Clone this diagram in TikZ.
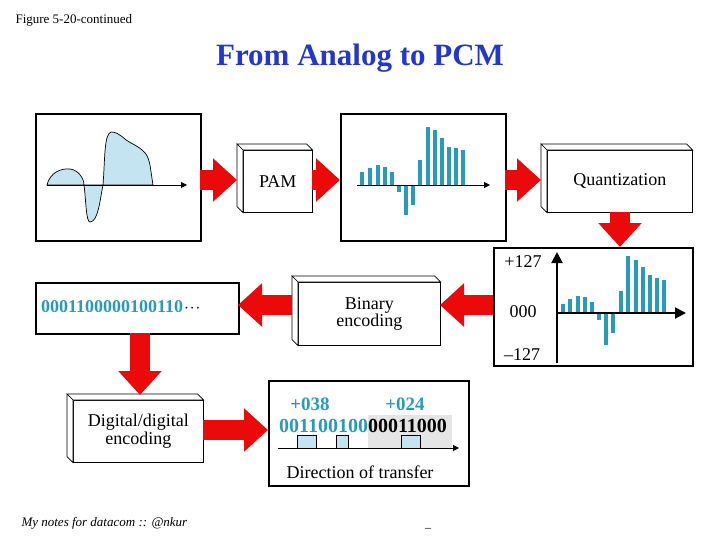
\documentclass[tikz,border=0pt]{standalone}
\usepackage{fontspec}
\setmainfont{Liberation Serif}
\usetikzlibrary{arrows.meta,calc}
\definecolor{teal2}{RGB}{40,155,185}
\definecolor{ttlblue}{RGB}{35,55,200}
\definecolor{lblue}{RGB}{195,228,240}
\definecolor{arred}{RGB}{235,10,10}
\tikzset{
  frame/.style={draw,line width=2pt},
  face/.style={draw,fill=white,line width=0.6pt,align=center,inner sep=0pt},
  bigarrow/.style={draw=arred,line width=20pt,-{Triangle[length=24pt,width=42pt]}},
  bar/.style={fill=teal2,draw=none},
  axis/.style={line width=1pt,-{Triangle[length=6pt,width=6pt]}},
  axisb/.style={line width=2pt,-{Triangle[length=11pt,width=11pt]}},
  pulse/.style={draw,line width=1pt,fill=lblue},
}
\newcommand{\threedbox}[6]{% name, x1,y1,x2,y2,text
  \node[face,minimum width=#4pt-#2pt,minimum height=#5pt-#3pt,anchor=north west,text width=#4pt-#2pt] (#1) at (#2,#3) {#6};
  \draw[fill=white,line width=0.6pt] (#1.north west) -- ++(-6,-6) -- ($(#1.north east)+(-6,-6)$) -- (#1.north east) -- cycle;
  \draw[fill=white,line width=0.6pt] (#1.north west) -- ++(-6,-6) -- ($(#1.south west)+(-6,-6)$) -- (#1.south west) -- cycle;
}
\begin{document}
\begin{tikzpicture}[x=1pt,y=-1pt]
\useasboundingbox (0,0) rectangle (728,546);
\node[anchor=west,font=\fontsize{13}{15}\selectfont] (fig) at (12,20) {Figure 5-20-continued};
\node[font=\fontsize{31}{34}\selectfont\bfseries,text=ttlblue] (title) at (360,58) {From Analog to PCM};

% box 1 analog
\node[frame,minimum width=165pt,minimum height=127pt,anchor=north west,inner sep=0pt] (b1) at (35,113) {};
\draw[fill=lblue,line width=0.7pt] (47,185) .. controls (50,172) and (62,168) .. (70,169)
  .. controls (78,170) and (84,178) .. (84,185) .. controls (86,200) and (86,222) .. (90,222)
  .. controls (98,222) and (100,200) .. (103,185) .. controls (105,160) and (104,134) .. (111,132)
  .. controls (120,132) and (124,140) .. (131,143) .. controls (145,150) and (148,155) .. (150,165)
  -- (153,185) -- cycle;
\draw[axis] (47,185) -- (187,185);

\threedbox{pam}{243}{150}{312}{212}{\fontsize{18}{20}\selectfont PAM}

% box 2 PAM
\node[frame,minimum width=165pt,minimum height=127pt,anchor=north west,inner sep=0pt] (b2) at (340,113) {};
\foreach \x/\h in {362/172,370/168,378/165,385/167,392/172,399/192,406/215,413/205,420/160,428/127,435/130,442/138,449/147,456/148,463/150}
  \fill[bar] (\x-2,185) rectangle (\x+2,\h);
\draw[axis] (357,185) -- (490,185);

\threedbox{quant}{547}{150}{692}{212}{\fontsize{18}{20}\selectfont Quantization}

% quantized box
\node[draw,line width=1.6pt,minimum width=199pt,minimum height=118pt,anchor=north west,inner sep=0pt] (b3) at (493,247) {};
\node[font=\fontsize{18}{20}\selectfont] (p127) at (523,262) {+127};
\node[font=\fontsize{18}{20}\selectfont] (z000) at (523,312) {000};
\node[font=\fontsize{18}{20}\selectfont] (m127) at (522,355) {–127};
\foreach \x/\h in {563/304,570/299,578/296,585/297,592/302,599/320,606/345,613/333,621/291,628/256,636/260,643/267,650/275,657/278,664/280}
  \fill[bar] (\x-2,313) rectangle (\x+2,\h);
\draw[axisb] (557,363) -- (557,252);
\draw[axisb] (557,313) -- (686,313);

\threedbox{bin}{298}{282}{440}{345}{\fontsize{18}{19}\selectfont Binary\\encoding}

% code box
\node[frame,minimum width=203pt,minimum height=51pt,anchor=north west,inner sep=0pt] (code) at (35,282) {};
\node[anchor=west,font=\fontsize{18}{20}\selectfont\bfseries,inner sep=0pt] (codetxt) at (41,307) {\textcolor{teal2}{0001100000100110}\kern1pt$\cdot\!\cdot\!\cdot$};

\threedbox{dd}{73}{400}{203}{462}{\fontsize{18}{19}\selectfont Digital/digital\\encoding}

% final box
\node[frame,minimum width=200pt,minimum height=105pt,anchor=north west,inner sep=0pt] (b4) at (268,380) {};
\fill[gray!20] (368,415) rectangle (452,448);
\node[font=\fontsize{19}{21}\selectfont\bfseries,text=teal2] (v38) at (310,404) {+038};
\node[font=\fontsize{19}{21}\selectfont\bfseries,text=teal2] (v24) at (405,404) {+024};
\node[font=\fontsize{20}{22}\selectfont\bfseries,inner sep=0pt] (bits) at (363,426) {\textcolor{teal2}{001100100}00011000};
\draw[pulse] (297,448) -- (297,435) -- (316,435) -- (316,448);
\draw[pulse] (336,448) -- (336,435) -- (348,435) -- (348,448);
\draw[pulse] (401,448) -- (401,435) -- (420,435) -- (420,448);
\draw[axis] (278,448) -- (459,448);
\node[font=\fontsize{18}{20}\selectfont] (dir) at (360,472) {Direction of transfer};

% red arrows
\coordinate (a1s) at (200,180); \coordinate (a1e) at (237,180);
\coordinate (a2s) at (312,180); \coordinate (a2e) at (340,180);
\coordinate (a3s) at (505,180); \coordinate (a3e) at (541,180);
\coordinate (a4s) at (620,212); \coordinate (a4e) at (620,247);
\coordinate (a5s) at (493,305); \coordinate (a5e) at (440,305);
\coordinate (a6s) at (292,305); \coordinate (a6e) at (238,305);
\coordinate (a7s) at (140,333); \coordinate (a7e) at (140,395);
\coordinate (a8s) at (203,430); \coordinate (a8e) at (268,430);
\foreach \i in {1,...,8} \draw[bigarrow] (a\i s) -- (a\i e);

\node[anchor=west,font=\fontsize{13}{15}\selectfont\itshape] (foot) at (18,523) {My notes for datacom :: @nkur};
\node[font=\fontsize{12}{14}\selectfont] (dash) at (428,528) {\_};
\end{tikzpicture}
\end{document}
